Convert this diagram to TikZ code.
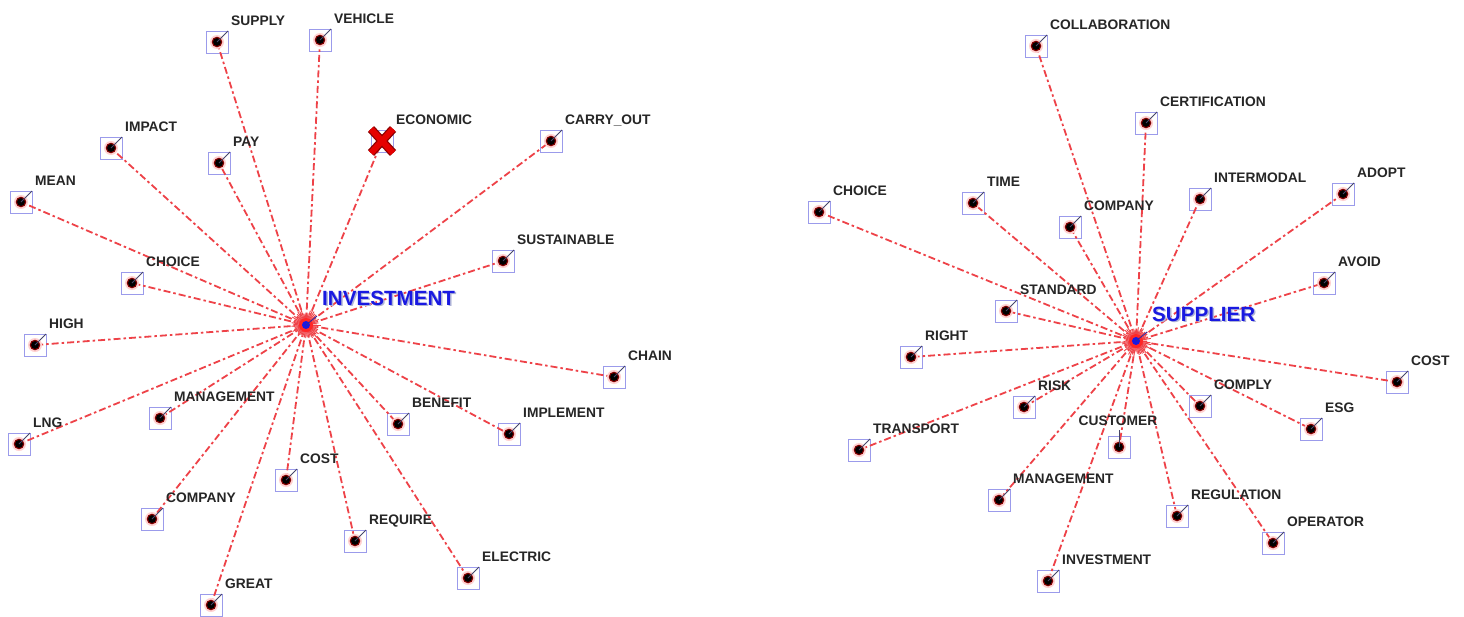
\documentclass[tikz,border=0pt]{standalone}
\usepackage{fontspec}
\setmainfont{Liberation Sans}
\definecolor{edgered}{RGB}{238,66,72}
\definecolor{boxblue}{RGB}{155,155,235}
\definecolor{ticker}{RGB}{70,70,105}
\definecolor{hubblue}{RGB}{25,25,225}
\definecolor{shadowc}{RGB}{175,180,215}
\tikzset{
  edge/.style={draw=edgered, line width=1.8pt, dash pattern=on 7pt off 3pt on 2.5pt off 3pt},
  termbox/.style={draw=boxblue, line width=0.9pt, minimum size=22pt, inner sep=0pt, outer sep=0pt},
  termlabel/.style={anchor=base west, inner sep=0pt, font=\fontsize{13.8}{14}\selectfont\bfseries, text=black!85},
  hublabel/.style={anchor=base west, inner sep=0pt, font=\fontsize{20.6}{22}\selectfont\bfseries, text=hubblue},
  hubshadow/.style={anchor=base west, inner sep=0pt, font=\fontsize{20.6}{22}\selectfont\bfseries, text=shadowc},
  tick/.style={draw=ticker, line width=0.9pt},
  burst/.style={draw=edgered, line width=0.9pt},
  xouter/.style={draw=red!55!black, line width=8.5pt},
  xinner/.style={draw=red!90!black, line width=6pt},
}
\begin{document}
\begin{tikzpicture}[x=1pt,y=-1pt]
\useasboundingbox (0,0) rectangle (1464,616);
\fill[white] (0,0) rectangle (1464,616);
\pgfmathsetseed{7}
% hubs
\coordinate (hubL) at (306,325);
\coordinate (hubR) at (1136,341);
% left term boxes
\foreach \n/\x/\y in {L1/217/42, L2/320/40, L3/111/148, L4/219/163, L5/382/141,
  L6/551/141, L7/21/202, L8/132/283, L9/503/261, L10/35/345, L11/614/377,
  L12/19/444, L13/160/418, L14/398/424, L15/509/434, L16/286/480, L17/152/519,
  L18/355/541, L19/468/578, L20/211/605}
  {\node[termbox] (\n) at (\x,\y) {};}
% right term boxes
\foreach \n/\x/\y in {R1/1036/46, R2/1146/123, R3/819/212, R4/973/203, R5/1070/227,
  R6/1200/199, R7/1343/194, R8/1324/283, R9/1006/311, R10/911/357, R11/1397/382,
  R12/1024/407, R13/1200/406, R14/1311/429, R15/859/450, R16/1119/447,
  R17/999/500, R18/1177/516, R19/1273/543, R20/1048/581}
  {\node[termbox] (\n) at (\x,\y) {};}
% edges
\foreach \n in {L1,L2,L3,L4,L5,L6,L7,L8,L9,L10,L11,L12,L13,L14,L15,L16,L17,L18,L19,L20}
  {\draw[edge] (hubL) -- (\n.center);}
\foreach \n in {R1,R2,R3,R4,R5,R6,R7,R8,R9,R10,R11,R12,R13,R14,R15,R16,R17,R18,R19,R20}
  {\draw[edge] (hubR) -- (\n.center);}
% dots and ticks
\foreach \n in {L1,L2,L3,L4,L5,L6,L7,L8,L9,L10,L11,L12,L13,L14,L15,L16,L17,L18,L19,L20,
  R1,R2,R3,R4,R5,R6,R7,R8,R9,R10,R11,R12,R13,R14,R15,R17,R18,R19,R20}
  {\fill[red!18] (\n.center) circle (7);
   \fill[red!50!black] (\n.center) circle (5.3);
   \fill[black] (\n.center) circle (3.9);
   \draw[tick] (\n.center) -- (\n.north east);}
\fill[red!18] (R16.center) circle (7);
\fill[red!50!black] (R16.center) circle (5.3);
\fill[black] (R16.center) circle (3.9);
\draw[tick] (R16.center) -- ([yshift=6pt]R16.north);
% X marker on ECONOMIC
\draw[xouter] ([shift={(-11,-12)}]L5.center) -- ([shift={(11,12)}]L5.center);
\draw[xouter] ([shift={(11,-12)}]L5.center) -- ([shift={(-11,12)}]L5.center);
\draw[xinner] ([shift={(-11,-12)}]L5.center) -- ([shift={(11,12)}]L5.center);
\draw[xinner] ([shift={(11,-12)}]L5.center) -- ([shift={(-11,12)}]L5.center);
% hub bursts
\foreach \h in {hubL,hubR}{
  \fill[red!25] (\h) circle (11);
  \foreach \a in {0,7,...,353}{
    \pgfmathsetmacro{\len}{10+6*rnd}
    \draw[burst] (\h) -- ++(\a:\len);
  }
  \fill[red!85!white] (\h) circle (7);
  \fill[hubblue] (\h) circle (4);
  \draw[draw=ticker!60!blue, line width=0.9pt] (\h) -- ++(11,-9);
}
% hub labels
\node[hubshadow] at ([shift={(17.5,-18.5)}]hubL) {INVESTMENT};
\node[hublabel] (hubLt) at ([shift={(16,-20)}]hubL) {INVESTMENT};
\node[hubshadow] at ([shift={(17.5,-18.5)}]hubR) {SUPPLIER};
\node[hublabel] (hubRt) at ([shift={(16,-20)}]hubR) {SUPPLIER};
% term labels
\foreach \n/\t in {L1/SUPPLY, L2/VEHICLE, L3/IMPACT, L4/PAY, L5/ECONOMIC,
  L6/CARRY\_OUT, L7/MEAN, L8/CHOICE, L9/SUSTAINABLE, L10/HIGH, L11/CHAIN,
  L12/LNG, L13/MANAGEMENT, L14/BENEFIT, L15/IMPLEMENT, L16/COST, L17/COMPANY,
  L18/REQUIRE, L19/ELECTRIC, L20/GREAT,
  R1/COLLABORATION, R2/CERTIFICATION, R3/CHOICE, R4/TIME, R5/COMPANY,
  R6/INTERMODAL, R7/ADOPT, R8/AVOID, R9/STANDARD, R10/RIGHT, R11/COST,
  R12/RISK, R13/COMPLY, R14/ESG, R15/TRANSPORT, R17/MANAGEMENT,
  R18/REGULATION, R19/OPERATOR, R20/INVESTMENT}
  {\node[termlabel] (\n-t) at ([shift={(14,-16.5)}]\n.center) {\t};}
\node[termlabel, anchor=base] (R16-t) at ([shift={(-1,-22)}]R16.center) {CUSTOMER};
\end{tikzpicture}
\end{document}
